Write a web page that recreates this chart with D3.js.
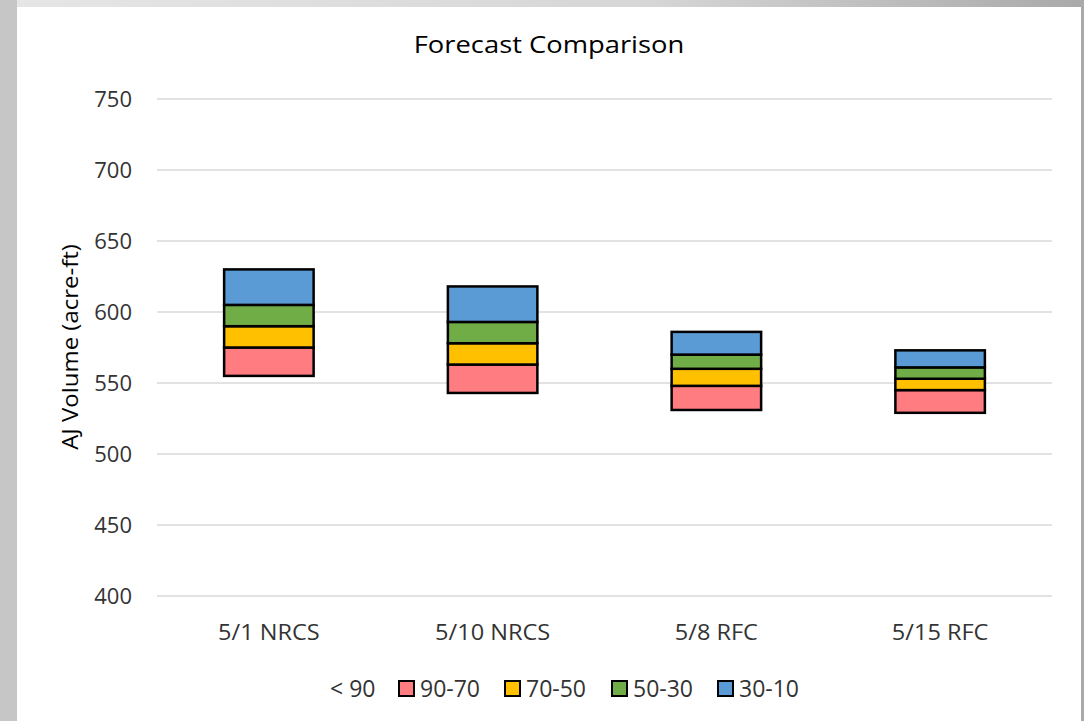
<!DOCTYPE html>
<html>
<head>
<meta charset="utf-8">
<script src="https://cdn.jsdelivr.net/npm/d3@7"></script>
<style>
  html, body { margin: 0; padding: 0; }
  body { width: 1084px; height: 721px; overflow: hidden;
         background: linear-gradient(90deg, #e6e6e6 0%, #d6d6d6 60%, #a9a9a9 100%); }
  #chart { position: absolute; left: 0; top: 0; }
</style>
</head>
<body>
<div id="chart"></div>
<script>
// forecast names
const categories = ["5/1 NRCS", "5/10 NRCS", "5/8 RFC", "5/15 RFC"]
// exceedance levels (acre-ft)
const p90 = [555, 543, 531, 529]
const p70 = [575, 563, 548, 545]
const p50 = [590, 578, 560, 553]
const p30 = [605, 593, 570, 561]
const p10 = [630, 618, 586, 573]
const seriesNames = ["< 90", "90-70", "70-50", "50-30", "30-10"]
const colors = ["none", "#FF7C80", "#FFC000", "#70AD47", "#5B9BD5"]
const yTicks = [400, 450, 500, 550, 600, 650, 700, 750]

const W = 1084, H = 721
const margin = {left: 157, right: 32, top: 99, bottom: 125}
const font = "Open Sans, sans-serif"

const svg = d3.select("#chart").append("svg")
    .attr("width", W)
    .attr("height", H)

// white chart panel over the grey slide background
svg.append("rect")
    .attr("x", 17).attr("y", 7)
    .attr("width", 1064).attr("height", H - 7)
    .attr("fill", "#ffffff")
svg.append("rect")
    .attr("x", 0).attr("y", 0)
    .attr("width", 17).attr("height", H)
    .attr("fill", "#c6c6c6")

const x = d3.scaleBand()
    .domain(categories)
    .range([margin.left, W - margin.right])
    .paddingInner(0.6)
    .paddingOuter(0.3)

const y = d3.scaleLinear()
    .domain([400, 750])
    .range([H - margin.bottom, margin.top])

// gridlines
svg.append("g")
    .selectAll("line")
    .data(yTicks)
    .enter().append("line")
    .attr("x1", margin.left)
    .attr("x2", W - margin.right)
    .attr("y1", d => y(d))
    .attr("y2", d => y(d))
    .attr("stroke", "#d9d9d9")
    .attr("stroke-width", 1.5)

// y axis labels
const yAxis = svg.append("g")
    .attr("transform", `translate(${margin.left - 25},0)`)
    .call(d3.axisLeft(y).tickValues(yTicks).tickSize(0).tickPadding(0))
yAxis.select(".domain").remove()
yAxis.selectAll("text")
    .attr("font-family", font)
    .attr("font-size", 22)
    .attr("fill", "#333")

// x axis labels (each tick group is already translated to the band centre)
const xAxis = svg.append("g")
    .attr("transform", `translate(0,${H - margin.bottom})`)
    .call(d3.axisBottom(x).tickSize(0).tickPadding(0))
xAxis.select(".domain").remove()
xAxis.selectAll("text")
    .attr("y", 44)
    .attr("dy", null)
    .attr("font-family", font)
    .attr("font-size", 22)
    .attr("fill", "#333")
    .attr("transform", "scale(1.07,1)")

// stack: base (< 90) is transparent, then the bands
const rows = categories.map((c, i) => ({
    cat: c,
    "< 90": p90[i],
    "90-70": p70[i] - p90[i],
    "70-50": p50[i] - p70[i],
    "50-30": p30[i] - p50[i],
    "30-10": p10[i] - p30[i]
}))
const stack = d3.stack().keys(seriesNames)(rows)

svg.append("g")
    .selectAll("g")
    .data(stack.slice(1))
    .enter().append("g")
    .attr("fill", (d, i) => colors[i + 1])
    .selectAll("rect")
    .data(d => d)
    .enter().append("rect")
    .attr("x", d => x(d.data.cat))
    .attr("width", x.bandwidth())
    .attr("y", d => y(d[1]))
    .attr("height", d => y(d[0]) - y(d[1]))
    .attr("stroke", "#000")
    .attr("stroke-width", 2.5)

// title (slightly stretched, like the original)
svg.append("text")
    .attr("transform", "translate(549,53) scale(1.14,1)")
    .attr("text-anchor", "middle")
    .attr("font-family", font)
    .attr("font-size", 24)
    .attr("fill", "#000")
    .text("Forecast Comparison")

// y axis title
svg.append("text")
    .attr("transform", `translate(78,347) rotate(-90) scale(1.09,1)`)
    .attr("text-anchor", "middle")
    .attr("font-family", font)
    .attr("font-size", 22)
    .attr("fill", "#000")
    .text("AJ Volume (acre-ft)")

// legend
const legendX = [330, 398, 504, 611, 717]
const lg = svg.append("g")
    .selectAll("g")
    .data(seriesNames)
    .enter().append("g")
    .attr("transform", (d, i) => `translate(${legendX[i]},689)`)
lg.filter((d, i) => i > 0).append("rect")
    .attr("x", 1).attr("y", -8)
    .attr("width", 15).attr("height", 15)
    .attr("fill", (d, i) => colors[i + 1])
    .attr("stroke", "#000")
    .attr("stroke-width", 2)
lg.append("text")
    .attr("x", (d, i) => i === 0 ? 0 : 22)
    .attr("y", 0)
    .attr("dy", "0.35em")
    .attr("font-family", font)
    .attr("font-size", 23)
    .attr("fill", "#333")
    .text(d => d)
</script>
</body>
</html>
